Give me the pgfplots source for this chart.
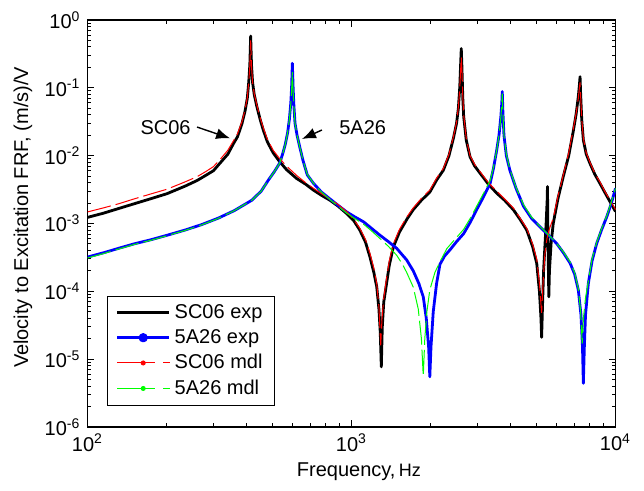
\documentclass[border=0pt]{standalone}
\usepackage{fontspec}
\setmainfont{Liberation Sans}
\usepackage{pgfplots}
\pgfplotsset{compat=1.18}
\usetikzlibrary{arrows.meta}
\definecolor{mblue}{RGB}{0,0,255}
\definecolor{mgreen}{RGB}{0,255,0}
\definecolor{mred}{RGB}{255,0,0}
\begin{document}
\begin{tikzpicture}
\useasboundingbox (-43.75pt,-32pt) rectangle (278.25pt,213.5pt);
\begin{axis}[
  at={(0,0)}, anchor=south west,
  scale only axis, width=264pt, height=203.5pt,
  xmode=log, ymode=log,
  xmin=100, xmax=10000, ymin=1e-6, ymax=1,
  xtick={100,1000,10000},
  xticklabels={10\textsuperscript{2},10\textsuperscript{3},10\textsuperscript{4}},
  ytick={1e-6,1e-5,1e-4,1e-3,1e-2,1e-1,1},
  yticklabels={10\textsuperscript{-6},10\textsuperscript{-5},10\textsuperscript{-4},10\textsuperscript{-3},10\textsuperscript{-2},10\textsuperscript{-1},10\textsuperscript{0}},
  minor xtick={200,300,400,500,600,700,800,900,2000,3000,4000,5000,6000,7000,8000,9000},
  minor ytick={2e-6,3e-6,4e-6,5e-6,6e-6,7e-6,8e-6,9e-6,2e-5,3e-5,4e-5,5e-5,6e-5,7e-5,8e-5,9e-5,2e-4,3e-4,4e-4,5e-4,6e-4,7e-4,8e-4,9e-4,2e-3,3e-3,4e-3,5e-3,6e-3,7e-3,8e-3,9e-3,2e-2,3e-2,4e-2,5e-2,6e-2,7e-2,8e-2,9e-2,0.2,0.3,0.4,0.5,0.6,0.7,0.8,0.9},
  tick label style={font=\fontsize{10}{12}\selectfont},
  axis line style={line width=0.8pt},
  major tick length=3.5pt, minor tick length=2pt,
  every tick/.style={black, line width=0.5pt},
  xlabel={Frequency,\,{\fontsize{9}{11}\selectfont Hz}},
  ylabel={Velocity to Excitation FRF, (m/s)/V},
  every axis x label/.style={at={(axis description cs:0.514,-0.07)}, anchor=north, font=\fontsize{10}{12}\selectfont},
  every axis y label/.style={at={(axis description cs:-0.091,0.515)}, rotate=90, anchor=south, font=\fontsize{10}{12}\selectfont},
  legend style={at={(rel axis cs:0.0375,0.0523)}, anchor=south west, draw=black, line width=0.5pt,
    font=\fontsize{10}{12}\selectfont, fill=white, inner xsep=4pt},
  legend cell align=left,
]
\addplot[black, line width=1.4pt, line join=round,
  legend image code/.code={\draw[black,solid,line width=1.4pt] (0pt,0pt)--(26pt,0pt);}]
coordinates {(100,1.23e-3) (115,1.42e-3) (131,1.66e-3) (150,1.95e-3) (175,2.34e-3) (200,2.75e-3) (234,3.55e-3) (260,4.3e-3) (280,5.1e-3) (300,6.0e-3) (318,7.8e-3) (340,1.05e-2) (357,1.5e-2) (370,1.9e-2) (385,3.0e-2) (395,4.5e-2) (403,7e-2) (408,1.2e-1) (412,2.2e-1) (415,5.8e-1) (418,2.2e-1) (422,1.2e-1) (428,8e-2) (437,5.5e-2) (450,3.5e-2) (463,2.4e-2) (480,1.6e-2) (505,1.1e-2) (535,8.1e-3) (568,6.2e-3) (620,4.6e-3) (670,3.8e-3) (718,3.1e-3) (770,2.6e-3) (829,2.2e-3) (890,1.8e-3) (959,1.4e-3) (1020,1.1e-3) (1075,8.0e-4) (1130,5.3e-4) (1175,3.2e-4) (1215,1.9e-4) (1246,1.17e-4) (1270,5.5e-5) (1285,2.5e-5) (1297,7.7e-6) (1308,3e-5) (1325,7e-5) (1352,1.17e-4) (1390,2.4e-4) (1440,4.5e-4) (1520,7.5e-4) (1620,1.15e-3) (1714,1.6e-3) (1840,2.2e-3) (1980,2.9e-3) (2103,4.4e-3) (2228,6.1e-3) (2340,1.0e-2) (2432,1.8e-2) (2500,3.0e-2) (2540,5.0e-2) (2570,1.0e-1) (2590,2.2e-1) (2605,3.8e-1) (2620,2.0e-1) (2640,7e-2) (2660,3.8e-2) (2720,1.7e-2) (2812,9.6e-3) (2930,7.0e-3) (3070,5.5e-3) (3300,3.8e-3) (3548,2.8e-3) (3800,2.2e-3) (4100,1.6e-3) (4350,1.15e-3) (4610,8e-4) (4850,4.6e-4) (5030,2.6e-4) (5150,1.0e-4) (5220,4e-5) (5250,2.1e-5) (5290,6e-5) (5340,2e-4) (5400,4.5e-4) (5460,1.0e-3) (5510,2.2e-3) (5525,3.5e-3) (5545,8e-4) (5570,2e-4) (5590,8.3e-5) (5620,2e-4) (5700,5e-4) (5810,1e-3) (6050,2.3e-3) (6340,4.9e-3) (6650,1.0e-2) (6920,2.3e-2) (7100,4.2e-2) (7230,7.4e-2) (7300,1.1e-1) (7340,1.46e-1) (7380,8e-2) (7450,3.4e-2) (7555,1.7e-2) (7750,1.05e-2) (8000,7.7e-3) (8350,5.3e-3) (8730,3.9e-3) (9100,2.9e-3) (9530,2.1e-3) (10000,1.5e-3)};
\addlegendentry{SC06 exp}
\addplot[mblue, line width=1.4pt, line join=round,
  legend image code/.code={\draw[mblue,solid,line width=1.4pt] (0pt,0pt)--(26pt,0pt); \fill[mblue] (13pt,0pt) circle (1.6pt);}]
coordinates {(100,3.2e-4) (115,3.7e-4) (131,4.3e-4) (150,5.0e-4) (175,5.8e-4) (200,6.7e-4) (234,8.0e-4) (270,9.6e-4) (313,1.2e-3) (360,1.55e-3) (419,2.2e-3) (455,3.0e-3) (485,4.4e-3) (510,5.8e-3) (535,7.8e-3) (550,1.1e-2) (562,1.5e-2) (573,2.2e-2) (582,3.5e-2) (589,6e-2) (593,1.0e-1) (597,2.3e-1) (601,1.0e-1) (605,5.5e-2) (611,3.0e-2) (622,2.0e-2) (638,1.3e-2) (655,8.5e-3) (680,5.2e-3) (718,3.9e-3) (770,2.9e-3) (829,2.3e-3) (890,1.85e-3) (959,1.48e-3) (1030,1.25e-3) (1110,1.06e-3) (1190,8.5e-4) (1282,6.7e-4) (1380,5.4e-4) (1483,4.3e-4) (1618,2.9e-4) (1714,2.0e-4) (1800,1.3e-4) (1870,8.3e-5) (1920,4e-5) (1960,1.5e-5) (1980,5.5e-6) (2000,1.5e-5) (2040,5e-5) (2100,1.3e-4) (2163,2.5e-4) (2250,3.3e-4) (2362,4.1e-4) (2500,5.4e-4) (2660,7.1e-4) (2820,1.05e-3) (2980,1.6e-3) (3150,2.4e-3) (3350,3.9e-3) (3450,6.5e-3) (3548,1.2e-2) (3620,2.0e-2) (3680,3.8e-2) (3710,6e-2) (3725,8.8e-2) (3745,4.5e-2) (3780,2.0e-2) (3860,1.0e-2) (3980,6.1e-3) (4200,3.3e-3) (4480,1.8e-3) (4800,1.2e-3) (5180,8.9e-4) (5600,6.6e-4) (5980,5.1e-4) (6350,3.7e-4) (6730,2.6e-4) (7000,1.8e-4) (7230,1.05e-4) (7400,4.5e-5) (7500,1.5e-5) (7555,4.4e-6) (7620,1.5e-5) (7700,4.5e-5) (7890,1.3e-4) (8150,2.8e-4) (8490,5.1e-4) (8850,8e-4) (9270,1.26e-3) (9650,2.0e-3) (10000,3.3e-3)};
\addlegendentry{5A26 exp}
\addplot[mred, line width=0.5pt, dash pattern=on 12pt off 2.5pt,
  legend image code/.code={\draw[mred,solid,line width=0.5pt] (0pt,0pt)--(19pt,0pt) (23pt,0pt)--(26.5pt,0pt); \fill[mred] (13pt,0pt) circle (1pt);}]
coordinates {(100,1.48e-3) (115,1.7e-3) (131,1.95e-3) (150,2.3e-3) (175,2.75e-3) (200,3.2e-3) (234,4.1e-3) (260,4.9e-3) (280,5.8e-3) (300,6.9e-3) (318,8.8e-3) (340,1.2e-2) (357,1.65e-2) (370,2.1e-2) (385,3.2e-2) (395,4.7e-2) (403,7.2e-2) (408,1.2e-1) (412,2.1e-1) (415,5.0e-1) (418,2.1e-1) (422,1.2e-1) (428,8.2e-2) (437,5.8e-2) (450,3.7e-2) (463,2.6e-2) (480,1.75e-2) (505,1.2e-2) (535,9.0e-3) (568,7.0e-3) (620,5.1e-3) (670,4.0e-3) (718,3.3e-3) (770,2.75e-3) (829,2.3e-3) (890,1.9e-3) (959,1.5e-3) (1020,1.15e-3) (1075,8.5e-4) (1130,5.8e-4) (1175,3.6e-4) (1215,2.2e-4) (1246,1.3e-4) (1270,6e-5) (1290,1.6e-5) (1305,4e-5) (1325,8e-5) (1352,1.4e-4) (1390,2.8e-4) (1440,5e-4) (1520,8.2e-4) (1620,1.25e-3) (1714,1.7e-3) (1840,2.35e-3) (1980,3.1e-3) (2103,4.7e-3) (2228,6.5e-3) (2340,1.05e-2) (2432,1.9e-2) (2500,3.1e-2) (2540,5.2e-2) (2570,9.5e-2) (2590,1.8e-1) (2605,2.8e-1) (2620,1.8e-1) (2640,7.5e-2) (2660,4e-2) (2720,1.8e-2) (2812,1.0e-2) (2930,7.4e-3) (3070,5.8e-3) (3300,4.0e-3) (3548,3.0e-3) (3800,2.3e-3) (4100,1.7e-3) (4350,1.2e-3) (4610,8.5e-4) (4850,5e-4) (5030,3e-4) (5150,1.3e-4) (5250,4.8e-5) (5320,1.4e-4) (5400,3.5e-4) (5500,6e-4) (5600,8e-4) (5810,1.2e-3) (6050,2.5e-3) (6340,5.2e-3) (6650,1.1e-2) (6920,2.5e-2) (7100,4.3e-2) (7230,7e-2) (7300,1e-1) (7340,1.2e-1) (7380,7.5e-2) (7450,3.5e-2) (7555,1.8e-2) (7750,1.1e-2) (8000,8.0e-3) (8350,5.5e-3) (8730,4.1e-3) (9100,3.0e-3) (9530,2.2e-3) (10000,1.6e-3)};
\addlegendentry{SC06 mdl}
\addplot[mgreen, line width=0.5pt, dash pattern=on 12pt off 2.5pt,
  legend image code/.code={\draw[mgreen,solid,line width=0.5pt] (0pt,0pt)--(19pt,0pt) (23pt,0pt)--(26.5pt,0pt); \fill[mgreen] (13pt,0pt) circle (1pt);}]
coordinates {(100,3.1e-4) (115,3.6e-4) (131,4.2e-4) (150,4.9e-4) (175,5.7e-4) (200,6.6e-4) (234,7.9e-4) (270,9.5e-4) (313,1.19e-3) (360,1.55e-3) (419,2.2e-3) (455,3.0e-3) (485,4.4e-3) (510,5.8e-3) (535,7.8e-3) (550,1.1e-2) (562,1.5e-2) (573,2.2e-2) (582,3.5e-2) (589,5.8e-2) (593,9e-2) (597,1.7e-1) (601,9e-2) (605,5.3e-2) (611,3.0e-2) (622,2.0e-2) (638,1.3e-2) (655,8.5e-3) (680,5.3e-3) (718,3.9e-3) (770,2.9e-3) (829,2.25e-3) (890,1.8e-3) (959,1.42e-3) (1030,1.18e-3) (1110,9.8e-4) (1190,7.8e-4) (1282,6.0e-4) (1380,4.6e-4) (1483,3.4e-4) (1560,2.5e-4) (1618,1.9e-4) (1714,1.15e-4) (1790,5.5e-5) (1840,2e-5) (1870,5.6e-6) (1895,2e-5) (1930,5e-5) (1980,1.05e-4) (2070,1.9e-4) (2160,2.7e-4) (2300,4.3e-4) (2480,6e-4) (2660,8.2e-4) (2820,1.2e-3) (2980,1.8e-3) (3150,2.7e-3) (3350,4.3e-3) (3450,6.8e-3) (3548,1.2e-2) (3620,2.0e-2) (3680,3.7e-2) (3710,5.8e-2) (3725,8.2e-2) (3745,4.5e-2) (3780,2.0e-2) (3860,1.05e-2) (3980,6.3e-3) (4200,3.4e-3) (4480,1.9e-3) (4800,1.25e-3) (5180,9e-4) (5600,6.7e-4) (5980,5.1e-4) (6350,3.8e-4) (6730,2.7e-4) (7000,1.9e-4) (7230,1.1e-4) (7380,5e-5) (7480,1.7e-5) (7560,4e-5) (7700,8e-5) (7890,1.4e-4) (8150,3e-4) (8490,5.3e-4) (8850,8.3e-4) (9270,1.3e-3) (9650,2.1e-3) (10000,3.3e-3)};
\addlegendentry{5A26 mdl}
\draw[-{Latex[length=7pt,width=5.5pt]}, line width=0.7pt] (axis cs:260,0.0264) -- (axis cs:347,0.018);
\node[anchor=east, inner sep=1pt, font=\fontsize{10}{12}\selectfont] at (axis cs:251,0.0255) {SC06};
\draw[-{Latex[length=7pt,width=5.5pt]}, line width=0.7pt] (axis cs:773,0.0239) -- (axis cs:649,0.0176);
\node[anchor=west, inner sep=1pt, font=\fontsize{10}{12}\selectfont] at (axis cs:881,0.0255) {5A26};
\end{axis}
\end{tikzpicture}
\end{document}
